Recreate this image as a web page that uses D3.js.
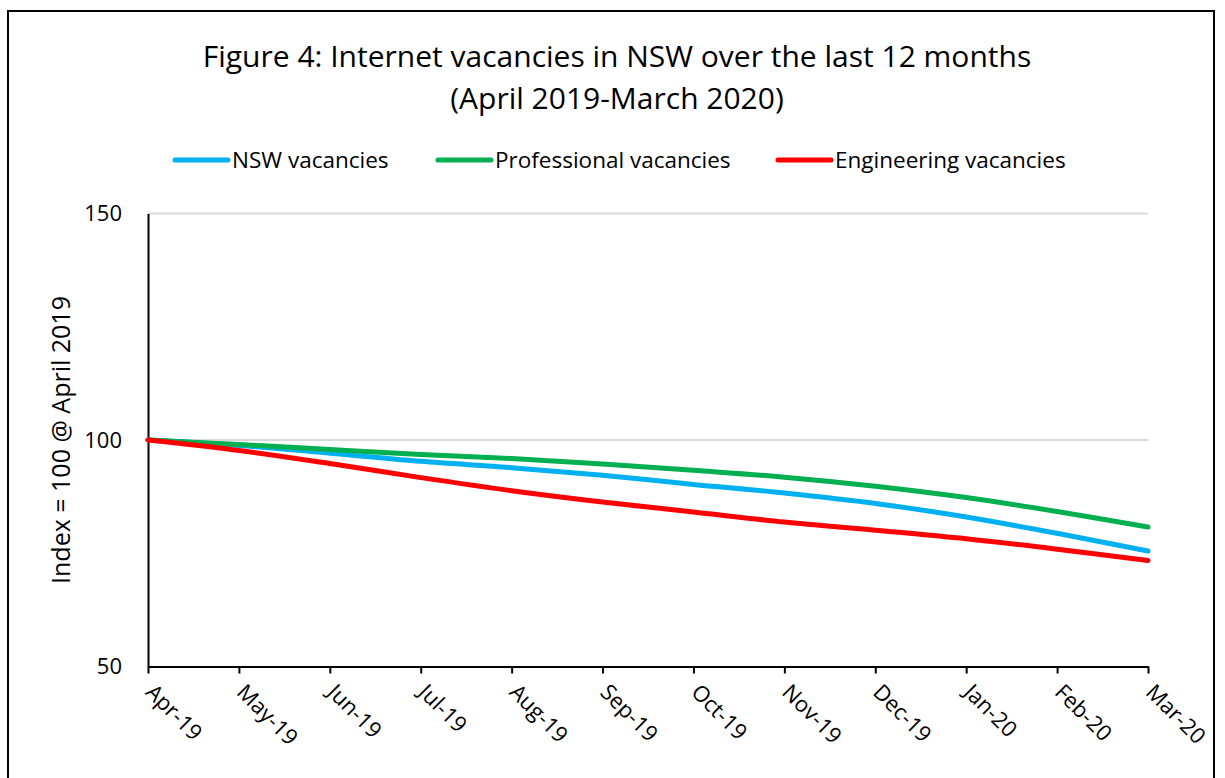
<!DOCTYPE html>
<html>
<head>
<meta charset="utf-8">
<script src="https://cdn.jsdelivr.net/npm/d3@7"></script>
<style>
  body { margin: 0; background: #fff; }
  svg { display: block; font-family: "Open Sans", "Noto Sans", sans-serif; }
</style>
</head>
<body>
<div class="chart"></div>
<script>
var months = ["Apr-19", "May-19", "Jun-19", "Jul-19", "Aug-19", "Sep-19",
              "Oct-19", "Nov-19", "Dec-19", "Jan-20", "Feb-20", "Mar-20"];
var nswVacancies = [100, 98.8, 97.1, 95.3, 93.9, 92.2, 90.2, 88.3, 86.0, 83.0, 79.4, 75.5];
var professionalVacancies = [100, 99.0, 97.9, 96.8, 95.9, 94.7, 93.3, 91.8, 89.8, 87.3, 84.2, 80.8];
var engineeringVacancies = [100, 97.7, 94.8, 91.7, 88.8, 86.3, 84.1, 81.9, 80.1, 78.2, 75.9, 73.4];
var yTicks = [50, 100, 150];

var series = [
  {name: "NSW vacancies", values: nswVacancies, color: "#00b0f0"},
  {name: "Professional vacancies", values: professionalVacancies, color: "#00b050"},
  {name: "Engineering vacancies", values: engineeringVacancies, color: "#ff0000"}
];

var width = 1225, height = 778;
var svg = d3.select(".chart").append("svg")
  .attr("width", width)
  .attr("height", height);

// outer frame (bottom runs off the picture)
svg.append("rect")
  .attr("x", 8).attr("y", 11)
  .attr("width", 1206).attr("height", 800)
  .attr("fill", "#fff")
  .attr("stroke", "#000")
  .attr("stroke-width", 2);

var x = d3.scalePoint().domain(months).range([148, 1148]);
var y = d3.scaleLinear().domain([50, 150]).range([666.5, 213.5]);

// title
var title = svg.append("text")
  .attr("text-anchor", "middle")
  .attr("font-size", 30)
  .attr("fill", "#000");
title.append("tspan").attr("x", 617).attr("y", 67).text("Figure 4: Internet vacancies in NSW over the last 12 months");
title.append("tspan").attr("x", 617).attr("y", 109).text("(April 2019-March 2020)");

// gridlines
svg.append("g").selectAll("line")
  .data(yTicks.filter(function(d) { return d > 50; }))
  .enter().append("line")
  .attr("x1", 148).attr("x2", 1148)
  .attr("y1", function(d) { return y(d); })
  .attr("y2", function(d) { return y(d); })
  .attr("stroke", "#d9d9d9")
  .attr("stroke-width", 2);

// y axis
var yAxis = svg.append("g")
  .attr("transform", "translate(148,0)")
  .call(d3.axisLeft(y).tickValues(yTicks).tickSize(0).tickPadding(26));
yAxis.select(".domain").attr("stroke", "#000").attr("stroke-width", 2);
yAxis.selectAll("text").attr("font-size", 22).attr("fill", "#000")
  .attr("font-family", "'Open Sans', sans-serif");

// x axis
var xAxis = svg.append("g")
  .attr("transform", "translate(0,666.5)")
  .call(d3.axisBottom(x).tickSizeOuter(0).tickSizeInner(7));
xAxis.select(".domain").attr("stroke", "#000").attr("stroke-width", 2);
xAxis.selectAll(".tick line").attr("stroke", "#000").attr("stroke-width", 2);
xAxis.selectAll("text")
  .attr("font-size", 22)
  .attr("fill", "#000")
  .attr("font-family", "'Open Sans', sans-serif")
  .attr("text-anchor", "start")
  .attr("dy", null)
  .attr("y", 0)
  .attr("transform", "translate(-4,27) rotate(45)");

// y axis title
svg.append("text")
  .attr("transform", "translate(70,440) rotate(-90)")
  .attr("text-anchor", "middle")
  .attr("font-size", 25)
  .attr("fill", "#000")
  .text("Index = 100 @ April 2019");

// lines
var line = d3.line()
  .x(function(d, i) { return x(months[i]); })
  .y(function(d) { return y(d); })
  .curve(d3.curveCatmullRom.alpha(0.5));

svg.append("g").selectAll("path")
  .data(series)
  .enter().append("path")
  .attr("d", function(d) { return line(d.values); })
  .attr("fill", "none")
  .attr("stroke", function(d) { return d.color; })
  .attr("stroke-width", 5)
  .attr("stroke-linecap", "round")
  .attr("stroke-linejoin", "round");

// legend
var legendX = [175, 438, 778];
var legend = svg.append("g").selectAll("g")
  .data(series)
  .enter().append("g")
  .attr("transform", function(d, i) { return "translate(" + legendX[i] + ",160)"; });
legend.append("line")
  .attr("x1", 0).attr("x2", 53)
  .attr("stroke", function(d) { return d.color; })
  .attr("stroke-width", 5)
  .attr("stroke-linecap", "round");
legend.append("text")
  .attr("x", 57).attr("y", 8)
  .attr("font-size", 22.5)
  .attr("fill", "#000")
  .text(function(d) { return d.name; });
</script>
</body>
</html>
